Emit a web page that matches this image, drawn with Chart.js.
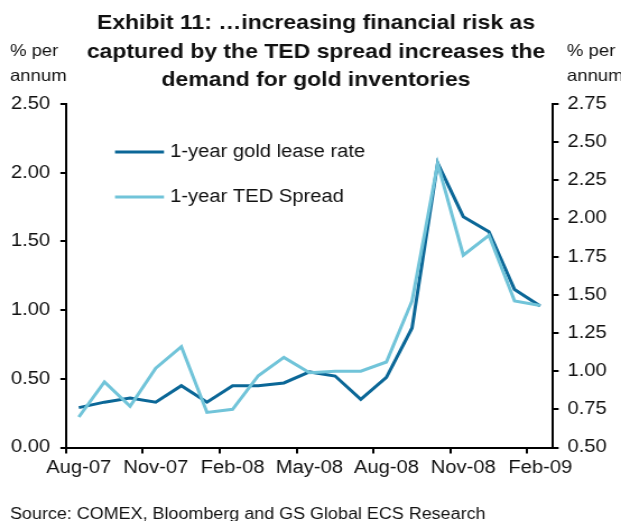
<!DOCTYPE html>
<html>
<head>
<meta charset="utf-8">
<script src="https://cdn.jsdelivr.net/npm/chart.js@4/dist/chart.umd.min.js"></script>
<style>
  html, body { margin: 0; padding: 0; background: #fff; overflow: hidden; }
  /* the exhibit is typeset slightly wide: draw on a narrower canvas and stretch it horizontally */
  #wrap { width: 554px; height: 521px; transform: scaleX(1.12094); transform-origin: 0 0; }
</style>
</head>
<body>
<div id="wrap"><canvas id="c" width="554" height="521"></canvas></div>
<script>
// Monthly observations, Aug-07 to Feb-09
const months = ['Aug-07','Sep-07','Oct-07','Nov-07','Dec-07','Jan-08','Feb-08','Mar-08','Apr-08',
                'May-08','Jun-08','Jul-08','Aug-08','Sep-08','Oct-08','Nov-08','Dec-08','Jan-09','Feb-09'];
// 1-year gold lease rate (% p.a., left axis)
const goldLease = [0.29, 0.33, 0.36, 0.33, 0.45, 0.33, 0.45, 0.45, 0.47, 0.55,
                   0.52, 0.35, 0.51, 0.87, 2.07, 1.68, 1.57, 1.15, 1.03];
// 1-year TED spread (% p.a., right axis)
const tedSpread = [0.70, 0.93, 0.77, 1.02, 1.16, 0.73, 0.75, 0.97, 1.09, 0.99,
                   1.00, 1.00, 1.06, 1.46, 2.36, 1.76, 1.89, 1.46, 1.43];
const leftTicks = [0, 0.5, 1.0, 1.5, 2.0, 2.5];
const rightTicks = [0.5, 0.75, 1.0, 1.25, 1.5, 1.75, 2.0, 2.25, 2.5, 2.75];

const titleLines = ['Exhibit 11: \u2026increasing financial risk as',
                    'captured by the TED spread increases the',
                    'demand for gold inventories'];
const unitLines = ['% per', 'annum'];
const sourceText = 'Source: COMEX, Bloomberg and GS Global ECS Research';

const FONT = '"Liberation Sans", Arial, Helvetica, sans-serif';
const DARK = '#0b6797';
const LIGHT = '#71c4d9';
const S = 621 / 554;          // horizontal stretch applied by the wrapper
const px = v => v / S;        // page x -> canvas x

// Title, unit captions, in-plot legend and source note
const annotations = {
  id: 'annotations',
  afterDraw(chart) {
    const ctx = chart.ctx;
    ctx.save();
    ctx.fillStyle = '#111';
    ctx.textBaseline = 'alphabetic';

    ctx.font = 'bold 20.5px ' + FONT;
    ctx.textAlign = 'center';
    titleLines.forEach((t, i) => ctx.fillText(t, px(316), 29 + i * 28.5));

    ctx.font = '16.5px ' + FONT;
    ctx.textAlign = 'left';
    unitLines.forEach((t, i) => {
      ctx.fillText(t, px(10), 56 + i * 25);
      ctx.fillText(t, px(567), 56 + i * 25);
    });

    ctx.font = '16px ' + FONT;
    ctx.fillText(sourceText, px(10), 519);

    // legend inside the plot area
    ctx.font = '18px ' + FONT;
    ctx.textBaseline = 'middle';
    chart.data.datasets.forEach((ds, i) => {
      const y = 152 + i * 45;
      ctx.strokeStyle = ds.borderColor;
      ctx.lineWidth = 3;
      ctx.beginPath();
      ctx.moveTo(px(115), y);
      ctx.lineTo(px(164), y);
      ctx.stroke();
      ctx.fillText(ds.label, px(170), y);
    });
    ctx.restore();
  }
};

new Chart(document.getElementById('c'), {
  type: 'line',
  data: {
    labels: months,
    datasets: [
      { label: '1-year gold lease rate', data: goldLease, yAxisID: 'yL',
        borderColor: DARK, borderWidth: 3, pointRadius: 0, tension: 0, order: 1 },
      { label: '1-year TED Spread', data: tedSpread, yAxisID: 'yR',
        borderColor: LIGHT, borderWidth: 3, pointRadius: 0, tension: 0, order: 0 }
    ]
  },
  options: {
    responsive: false,
    animation: false,
    devicePixelRatio: 1,
    layout: { padding: { top: 104, left: 0, right: 0, bottom: 0 } },
    plugins: { legend: { display: false }, title: { display: false }, tooltip: { enabled: false } },
    scales: {
      x: {
        offset: true,
        grid: {
          offset: true,
          drawOnChartArea: false,
          tickLength: 6,
          lineWidth: 2,
          color: ctx => (ctx.index % 3 === 0 && ctx.index < months.length) ? '#000' : 'rgba(0,0,0,0)'
        },
        border: { display: true, color: '#000', width: 2 },
        ticks: {
          autoSkip: false, maxRotation: 0, minRotation: 0, padding: 4,
          color: '#111', font: { family: FONT, size: 18 },
          callback: (v, i) => (i % 3 === 0 ? months[i] : '')
        },
        afterFit: s => { s.height = 73.5; }
      },
      yL: {
        position: 'left',
        min: 0, max: 2.5,
        afterBuildTicks: s => { s.ticks = leftTicks.map(v => ({ value: v })); },
        grid: { drawOnChartArea: false, tickLength: 5, lineWidth: 2, color: '#000' },
        border: { display: true, color: '#000', width: 2 },
        ticks: { padding: 9, color: '#111', font: { family: FONT, size: 18 },
                 callback: v => Number(v).toFixed(2) },
        afterFit: s => { s.width = px(66); }
      },
      yR: {
        position: 'right',
        min: 0.5, max: 2.75,
        afterBuildTicks: s => { s.ticks = rightTicks.map(v => ({ value: v })); },
        grid: { drawOnChartArea: false, tickLength: 5, lineWidth: 2, color: '#000' },
        border: { display: true, color: '#000', width: 2 },
        ticks: { padding: 8, color: '#111', font: { family: FONT, size: 18 },
                 callback: v => Number(v).toFixed(2) },
        afterFit: s => { s.width = 554 - px(553); }
      }
    }
  },
  plugins: [annotations]
});
</script>
</body>
</html>
